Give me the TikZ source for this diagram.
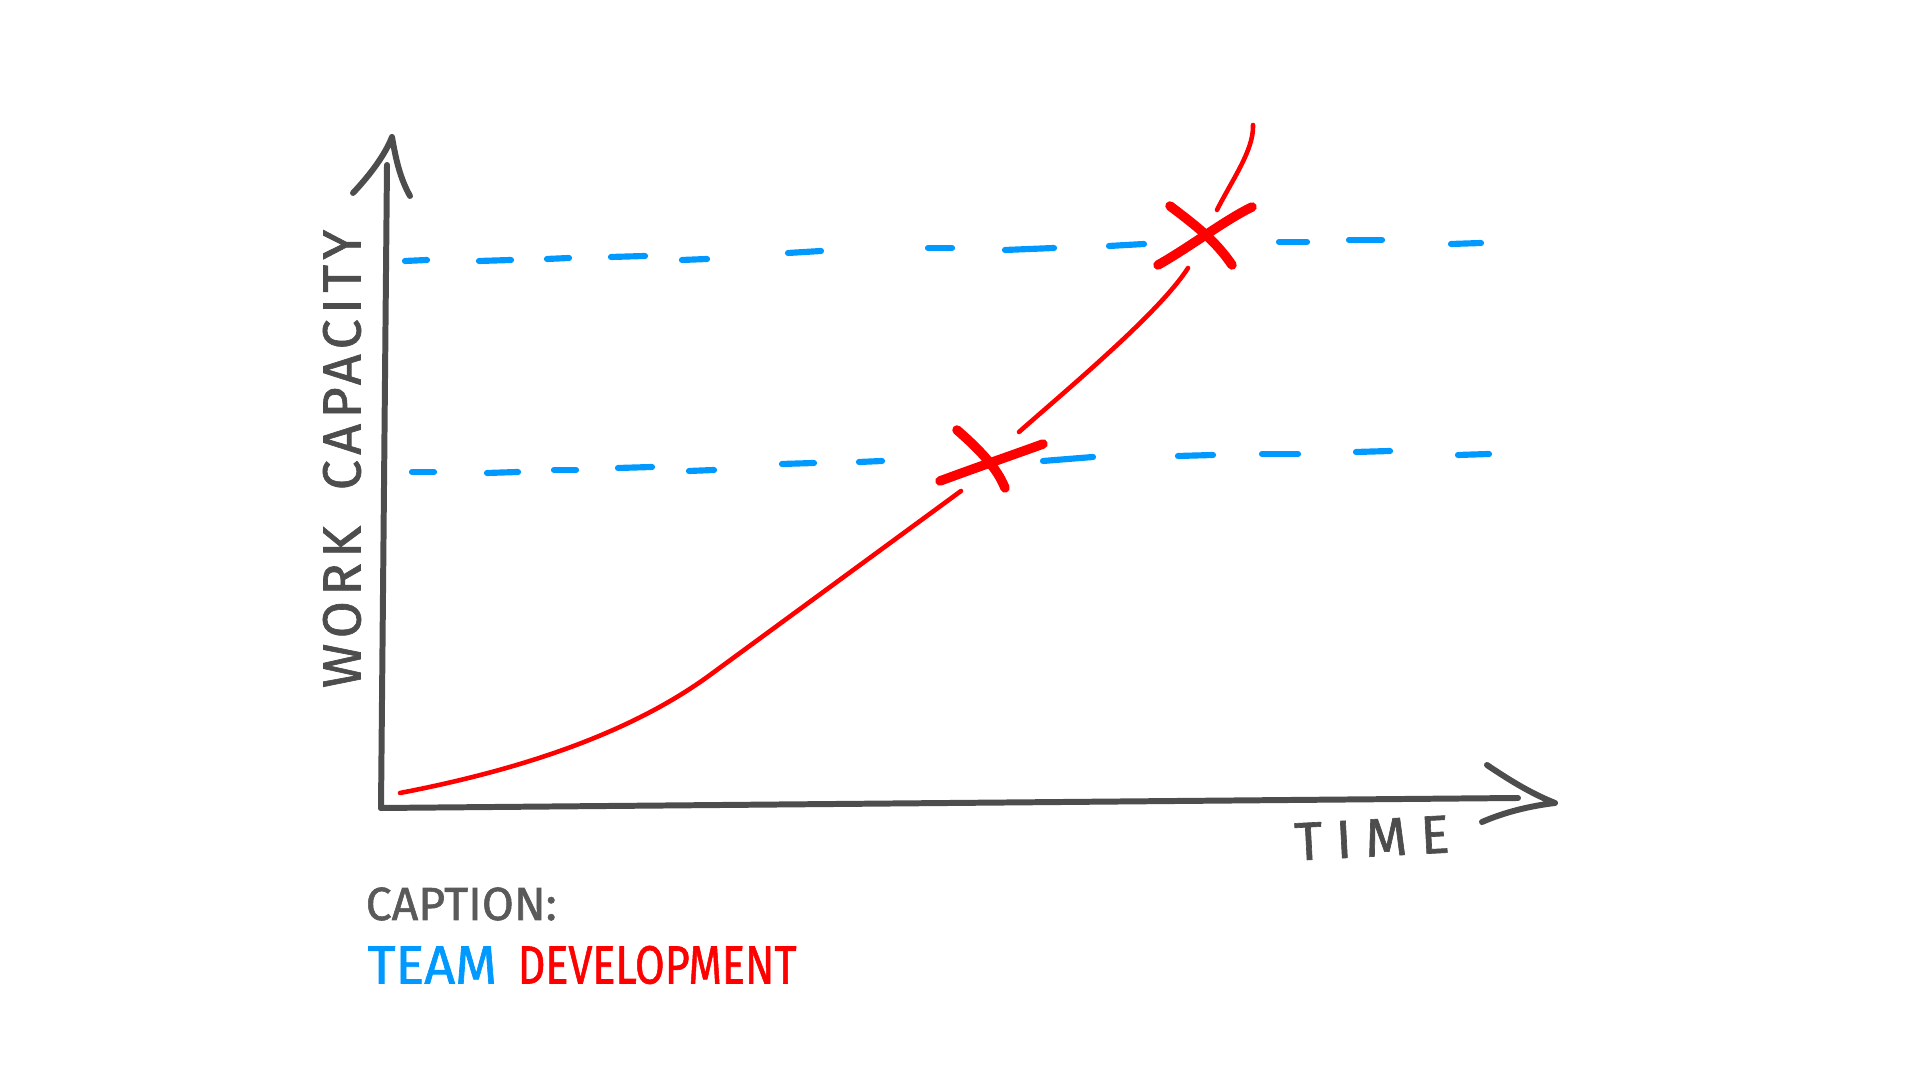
\documentclass[tikz,border=0pt]{standalone}
\usepackage{fontspec}
\setmainfont{Fira Sans}[FakeBold=1.2]
\definecolor{axisgray}{HTML}{4D4D4D}
\definecolor{captiongray}{HTML}{5A5A5A}
\definecolor{teamblue}{HTML}{0099FF}
\definecolor{devred}{HTML}{FF0000}
\begin{document}
\begin{tikzpicture}[x=0.01cm,y=-0.01cm,
  axis/.style={draw=axisgray, line width=1.7pt, line cap=round, line join=round},
  level/.style={draw=teamblue, line width=1.75pt, line cap=round},
  growth/.style={draw=devred, line width=1.3pt, line cap=round},
  cross/.style={draw=devred, line width=2.7pt, line cap=round},
  lbl/.style={inner sep=0pt, text=axisgray, font=\fontsize{15.3}{18}\selectfont}]
\useasboundingbox[fill=white] (0,0) rectangle (1920,1080);

% axes
\coordinate (origin) at (381,808);
\coordinate (ytop) at (387,165);
\coordinate (xend) at (1518,798);
\coordinate (yapex) at (392,137);
\coordinate (xapex) at (1555,803);
\draw[axis] (origin) -- (ytop);
\draw[axis] (origin) -- (xend);
\draw[axis] (353,193) .. controls (370,175) and (385,155) .. (yapex)
            .. controls (396,160) and (400,178) .. (410,196);
\draw[axis] (1487,765) .. controls (1515,784) and (1535,795) .. (xapex)
            .. controls (1530,806) and (1505,812) .. (1482,822);

% upper level (dashed)
\foreach \a/\b/\c/\d in {405/261/427/260, 479/261/511/260, 547/259/569/258,
    611/257/645/256, 682/260/707/259, 788/253/821/251, 928/248/952/248,
    1005/250/1054/248, 1109/246/1144/244, 1279/242/1307/242,
    1349/240/1382/240, 1451/244/1481/243}
  \draw[level] (\a,\b) -- (\c,\d);
% lower level (dashed)
\foreach \a/\b/\c/\d in {412/472/434/472, 487/473/518/472, 554/470/576/470,
    618/468/652/467, 689/471/714/470, 782/464/814/463, 859/462/882/461,
    1043/461/1093/457, 1178/456/1213/455, 1262/454/1298/454,
    1356/452/1390/451, 1458/455/1489/454}
  \draw[level] (\a,\b) -- (\c,\d);

% growth curve
\draw[growth] (400,793) .. controls (530,768) and (635,730) .. (710,675) -- (961,491);
\draw[growth] (1019,432) .. controls (1070,387) and (1160,312) .. (1188,268);
\draw[growth] (1217,210) .. controls (1232,180) and (1254,150) .. (1253,125);

% crosses
\draw[cross] (957,430) .. controls (980,450) and (997,468) .. (1005,488);
\draw[cross] (940,481) .. controls (975,468) and (1010,456) .. (1043,444);
\draw[cross] (1170,206) .. controls (1195,225) and (1215,240) .. (1232,265);
\draw[cross] (1158,265) .. controls (1190,247) and (1225,220) .. (1252,207);

% labels
\node[lbl, rotate=90] (ylabel) at (342,459) {\addfontfeatures{LetterSpace=10}WORK\hspace{0.3em} CAPACITY};
\node[lbl, rotate=3] (xlabel) at (1372,838) {\addfontfeatures{LetterSpace=25}TIME};
\node[lbl, anchor=west, text=captiongray, font=\fontsize{13.2}{16}\selectfont] (caption) at (365,904) {CAPTION:};
\node[lbl, anchor=west, text=teamblue] (team) at (367,965) {TEAM};
\node[lbl, anchor=west, text=devred] (dev) at (517,965) {\scalebox{0.8}[1]{DEVELOPMENT}};
\end{tikzpicture}
\end{document}
